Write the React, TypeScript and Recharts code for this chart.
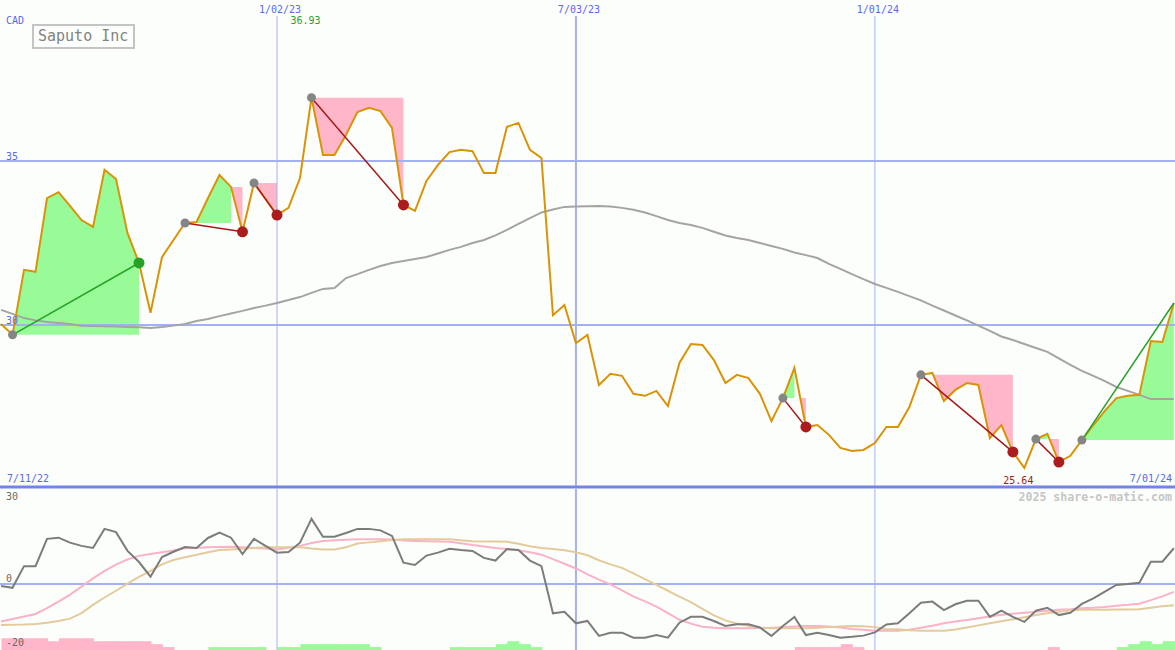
import React from "react";
import {
  ComposedChart,
  Line,
  Area,
  Bar,
  Cell,
  XAxis,
  YAxis,
  ReferenceLine,
  ReferenceDot,
} from "recharts";

// one point per week: week 0 = 7/11/22, week 103 = 7/01/24 (data starts at week 1)
const firstWeek = 1;

// weekly closing price, CAD
const closes = [
  30.03, 29.70, 31.68, 31.62, 33.87, 34.05, 33.63, 33.20, 32.99, 34.73,
  34.45, 32.80, 31.89, 30.37, 32.07, 32.59, 33.11, 33.14, 33.87, 34.57,
  34.21, 32.84, 34.33, 33.84, 33.35, 33.57, 34.48, 36.93, 35.18, 35.18,
  35.79, 36.49, 36.62, 36.52, 36.01, 33.66, 33.48, 34.39, 34.88, 35.27,
  35.34, 35.30, 34.63, 34.63, 36.04, 36.16, 35.34, 35.09, 30.30, 30.61,
  29.45, 29.70, 28.17, 28.51, 28.45, 27.90, 27.84, 27.99, 27.53, 28.84,
  29.42, 29.39, 28.93, 28.23, 28.48, 28.38, 27.90, 27.07, 27.77, 28.69,
  26.89, 26.95, 26.65, 26.25, 26.16, 26.19, 26.40, 26.89, 26.89, 27.50,
  28.48, 28.54, 27.68, 28.02, 28.23, 28.17, 26.55, 26.95, 26.13, 25.64,
  26.52, 26.68, 25.82, 26.01, 26.49, 26.95, 27.38, 27.77, 27.84, 27.87,
  29.51, 29.48, 30.67,
];

// long moving average
const movingAvg = [
  30.46, 30.34, 30.21, 30.14, 30.09, 30.06, 30.03, 29.98, 29.97, 29.96,
  29.95, 29.94, 29.93, 29.91, 29.94, 29.98, 30.03, 30.12, 30.18, 30.27,
  30.35, 30.43, 30.52, 30.59, 30.67, 30.76, 30.85, 30.98, 31.10, 31.13,
  31.43, 31.55, 31.68, 31.80, 31.89, 31.95, 32.01, 32.07, 32.18, 32.29,
  32.38, 32.50, 32.59, 32.73, 32.90, 33.08, 33.26, 33.43, 33.52, 33.60,
  33.61, 33.62, 33.63, 33.61, 33.57, 33.51, 33.43, 33.32, 33.20, 33.11,
  33.05, 32.96, 32.84, 32.73, 32.65, 32.59, 32.50, 32.41, 32.32, 32.21,
  32.13, 32.04, 31.86, 31.71, 31.55, 31.40, 31.25, 31.13, 31.01, 30.88,
  30.75, 30.59, 30.44, 30.29, 30.14, 29.98, 29.82, 29.65, 29.54, 29.42,
  29.30, 29.18, 28.98, 28.78, 28.60, 28.45, 28.29, 28.11, 27.99, 27.87,
  27.74, 27.74, 27.74,
];

// lower panel: oscillator and its two smoothings
const oscLine = [
  -0.7, -1.3, 6.1, 6.1, 15.4, 15.8, 14.1, 13.0, 12.3, 18.8,
  17.7, 11.3, 7.5, 2.5, 9.2, 11.0, 12.6, 12.3, 15.7, 17.5,
  15.8, 10.2, 15.4, 13.0, 10.7, 10.9, 14.1, 22.2, 16.1, 16.1,
  17.4, 18.8, 18.8, 18.3, 16.4, 7.3, 6.5, 9.7, 10.7, 12.0,
  11.6, 11.3, 8.9, 8.0, 11.9, 11.6, 8.0, 6.1, -10.0, -9.5,
  -13.4, -12.6, -17.7, -16.6, -16.6, -18.3, -18.3, -17.4, -18.3, -13.2,
  -11.2, -11.2, -12.6, -14.3, -13.7, -13.7, -14.8, -17.7, -14.3, -11.2,
  -17.4, -16.6, -17.4, -18.3, -18.0, -17.6, -16.5, -13.8, -13.4, -10.0,
  -6.4, -6.0, -8.9, -6.9, -5.7, -5.7, -11.2, -9.1, -11.2, -12.9,
  -9.1, -8.1, -10.6, -9.8, -6.8, -4.9, -2.6, -0.3, 0.0, 0.4,
  7.6, 7.6, 12.2,
];
const oscFast = [
  -12.8, -11.9, -11.1, -10.2, -8.2, -6.0, -3.6, -0.9, 1.9, 4.5,
  6.6, 8.4, 9.6, 10.2, 10.8, 11.4, 12.2, 12.3, 12.5, 12.6,
  12.7, 12.5, 12.3, 12.1, 11.8, 12.4, 13.0, 14.0, 14.7, 14.9,
  15.1, 15.3, 15.3, 15.3, 15.2, 14.8, 14.7, 14.6, 14.5, 14.4,
  13.9, 13.3, 12.8, 12.3, 11.9, 11.5, 10.8, 10.0, 8.5, 6.9,
  5.3, 3.3, 1.5, -0.1, -2.2, -4.2, -5.9, -7.7, -9.9, -12.2,
  -13.5, -14.6, -14.9, -15.1, -15.1, -15.1, -15.0, -14.9, -14.7, -14.5,
  -14.3, -14.3, -14.5, -14.8, -15.3, -15.6, -15.9, -15.9, -15.9, -15.6,
  -14.9, -14.2, -13.4, -12.8, -12.3, -11.7, -11.1, -10.5, -10.1, -9.8,
  -9.5, -9.1, -8.8, -8.6, -8.3, -8.1, -7.8, -7.4, -7.1, -6.7,
  -5.5, -4.2, -2.7,
];
const oscSlow = [
  -14.0, -13.9, -13.8, -13.6, -13.2, -12.6, -11.8, -9.9, -7.1, -4.6,
  -2.3, 0.1, 2.4, 4.5, 6.7, 8.2, 9.1, 10.0, 10.8, 11.6,
  11.8, 12.0, 12.3, 12.5, 12.5, 12.5, 12.5, 12.1, 11.8, 11.8,
  12.5, 13.8, 14.2, 14.6, 15.0, 15.3, 15.3, 15.3, 15.3, 15.3,
  14.9, 14.6, 14.5, 14.5, 14.4, 13.7, 12.9, 12.3, 11.9, 11.5,
  10.8, 9.8, 8.1, 6.7, 5.5, 3.6, 1.7, -0.3, -2.3, -4.3,
  -6.2, -8.5, -10.7, -12.4, -13.5, -14.2, -14.9, -15.1, -15.1, -15.1,
  -15.1, -14.9, -14.7, -14.5, -14.3, -14.4, -14.7, -15.4, -15.4, -15.8,
  -15.9, -15.9, -15.9, -15.5, -14.8, -14.1, -13.4, -12.7, -12.0, -11.3,
  -10.6, -10.0, -9.5, -9.0, -8.8, -8.8, -8.8, -8.7, -8.7, -8.6,
  -8.1, -7.6, -7.2,
];
// small histogram along the bottom (negative = pink, positive = green)
const histogram = [
  -4, -4, -4, -4, -3, -4, -4, -4, -3, -3,
  -3, -3, -3, -2, -1, 0, 0, 0, 1, 1,
  1, 1, 1, 0, 1, 1, 2, 2, 2, 2,
  2, 2, 1, 0, 0, 0, 0, 0, 0, 1,
  1, 1, 1, 2, 3, 2, 1, 0, 0, 0,
  0, 0, 0, 0, 0, 0, 0, 0, 0, 0,
  0, 0, 0, 0, 0, 0, 0, 0, 0, -1,
  -1, -1, -1, -2, -1, 0, 0, 0, 0, 0,
  0, 0, 0, 0, 0, 0, 0, 0, 0, 0,
  0, -1, 0, 0, 0, 0, 0, 1, 2, 3,
  2, 3, 3,
];

// swings: start week, end week, and (optionally) the week whose close caps the pink part
const swings = [
  { from: 2, to: 13 },
  { from: 17, to: 22, pinkTop: 21 },
  { from: 23, to: 25 },
  { from: 28, to: 36 },
  { from: 69, to: 71 },
  { from: 81, to: 89 },
  { from: 91, to: 93 },
  { from: 95, to: 103 },
];

const dateLines = [
  { week: 25, label: "1/02/23", width: 1 },
  { week: 51, label: "7/03/23", width: 2 },
  { week: 77, label: "1/01/24", width: 1 },
];
const priceTicks = [30, 35];
const oscTicks = [30, 0, -20];

const MONO = "'DejaVu Sans Mono', monospace";
const BG = "#fcfefb";
const GRID = "#a3b1f2";
const AXIS_BLUE = "#5a68ec";
const GREEN_FILL = "#98fb98";
const PINK_FILL = "#ffb6c8";
const UP = "#26a226";
const DOWN = "#a41a1a";

const xDomain = [0.91, 103.1];
const priceDomain = [25.06, 39.42];
const oscDomain = [-22.5, 32.4];

const closeAt = (w: number) => closes[w - firstWeek];

// rows for the price panel; green runs from the swing start to the last close above its start level,
// pink covers the part below the level, from the crossing onward
const priceRows: any[] = closes.map((c, k) => ({ x: k + firstWeek, close: c, ma: movingAvg[k] }));
const extraRows: any[] = [];
swings.forEach((s, n) => {
  const level = closeAt(s.from);
  let lastAbove = s.from;
  for (let w = s.from; w <= s.to; w++) if (closeAt(w) >= level) lastAbove = w;
  else break;
  for (let w = s.from; w <= lastAbove; w++) {
    priceRows[w - firstWeek]["g" + n] = [level, closeAt(w)];
  }
  if (s.pinkTop) {
    const top = closeAt(s.pinkTop);
    for (let w = s.pinkTop; w <= s.to; w++) {
      priceRows[w - firstWeek]["p" + n] = [Math.min(closeAt(w), top), top];
    }
  } else if (lastAbove < s.to) {
    const a = closeAt(lastAbove);
    const b = closeAt(lastAbove + 1);
    if (a > level && b < level) {
      extraRows.push({ x: lastAbove + (level - a) / (b - a), ["p" + n]: [level, level] });
    } else {
      priceRows[lastAbove - firstWeek]["p" + n] = [level, level];
    }
    for (let w = lastAbove + 1; w <= s.to; w++) {
      priceRows[w - firstWeek]["p" + n] = [Math.min(closeAt(w), level), level];
    }
  }
});
const rows = [...priceRows, ...extraRows].sort((a, b) => a.x - b.x);

const oscRows = oscLine.map((v, k) => ({
  x: k + firstWeek,
  osc: v,
  fast: oscFast[k],
  slow: oscSlow[k],
  hist: histogram[k],
}));

const maxIdx = closes.indexOf(Math.max(...closes));
const minIdx = closes.indexOf(Math.min(...closes));

const BAR_W = 12;
const HistBar = (props: any) => {
  const { x, y, width, height, fill } = props;
  if (!height) return null;
  return <rect x={x + width / 2} y={y} width={BAR_W} height={height} fill={fill} />;
};

const labelFont = { fontSize: 10, fontFamily: MONO };

const textStyle: React.CSSProperties = {
  position: "absolute",
  fontFamily: MONO,
  fontSize: 10,
  lineHeight: "10px",
  whiteSpace: "nowrap",
};

export default function App() {
  return (
    <div style={{ position: "relative", width: 1175, height: 650, background: BG, overflow: "hidden" }}>
      <style>{"body{margin:0}"}</style>

      <div style={{ position: "absolute", top: 0, left: 0 }}>
        <ComposedChart width={1175} height={490} data={rows} margin={{ top: 16, right: 0, bottom: 3, left: 0 }}>
          <XAxis type="number" dataKey="x" domain={xDomain} allowDataOverflow hide />
          <YAxis domain={priceDomain} allowDataOverflow hide />
          {priceTicks.map((t) => (
            <ReferenceLine
              key={t}
              y={t}
              stroke={GRID}
              strokeWidth={2}
              label={{ value: String(t), position: "insideBottomLeft", offset: 1, dx: 5, fill: AXIS_BLUE, ...labelFont }}
            />
          ))}
          {dateLines.map((d) => (
            <ReferenceLine
              key={d.week}
              x={d.week}
              stroke={GRID}
              strokeWidth={d.width}
              label={{ value: d.label, position: "top", offset: 3, fill: AXIS_BLUE, dx: 3, ...labelFont }}
            />
          ))}
          <ReferenceLine y={priceDomain[0]} stroke="#7283ea" strokeWidth={3} />

          {swings.map((s, n) => (
            <Area
              key={"g" + n}
              dataKey={"g" + n}
              stroke="none"
              fill={GREEN_FILL}
              fillOpacity={1}
              dot={false}
              activeDot={false}
              isAnimationActive={false}
            />
          ))}
          {swings.map((s, n) => (
            <Area
              key={"p" + n}
              dataKey={"p" + n}
              stroke="none"
              fill={PINK_FILL}
              fillOpacity={1}
              dot={false}
              activeDot={false}
              isAnimationActive={false}
            />
          ))}

          <Line dataKey="ma" stroke="#a4a4a4" strokeWidth={2} dot={false} activeDot={false} connectNulls isAnimationActive={false} />
          <Line dataKey="close" stroke="#da9306" strokeWidth={2} dot={false} activeDot={false} connectNulls isAnimationActive={false} />

          {swings.map((s, n) => {
            const a = closeAt(s.from);
            const b = closeAt(s.to);
            return (
              <ReferenceLine
                key={"t" + n}
                segment={[{ x: s.from, y: a }, { x: s.to, y: b }]}
                stroke={b > a ? UP : DOWN}
                strokeWidth={1.5}
              />
            );
          })}
          {swings.map((s, n) => (
            <ReferenceDot key={"s" + n} x={s.from} y={closeAt(s.from)} r={4.5} fill="#858585" stroke="none" />
          ))}
          {swings
            .filter((s) => s.to < closes.length)
            .map((s, n) => {
              const a = closeAt(s.from);
              const b = closeAt(s.to);
              return <ReferenceDot key={"e" + n} x={s.to} y={b} r={5.5} fill={b > a ? UP : "#ac1c1c"} stroke="none" />;
            })}

          <ReferenceDot
            x={maxIdx + firstWeek}
            y={priceDomain[1]}
            r={0}
            fill="none"
            stroke="none"
            label={{ value: closes[maxIdx].toFixed(2), position: "bottom", offset: 1, fill: "#2f9a2f", dx: -6, ...labelFont }}
          />
          <ReferenceDot
            x={minIdx + firstWeek}
            y={priceDomain[0]}
            r={0}
            fill="none"
            stroke="none"
            label={{ value: closes[minIdx].toFixed(2), position: "top", offset: 3, fill: DOWN, dx: -6, ...labelFont }}
          />
        </ComposedChart>
      </div>

      <div style={{ position: "absolute", top: 489, left: 0 }}>
        <ComposedChart width={1175} height={161} data={oscRows} margin={{ top: 0, right: 0, bottom: 0, left: 0 }}>
          <XAxis type="number" dataKey="x" domain={xDomain} allowDataOverflow hide />
          <YAxis domain={oscDomain} allowDataOverflow hide />
          <YAxis yAxisId="h" domain={[0, oscDomain[1] - oscDomain[0]]} hide />
          {dateLines.map((d) => (
            <ReferenceLine key={d.week} x={d.week} stroke={GRID} strokeWidth={d.width} />
          ))}
          {oscTicks.map((t) => (
            <ReferenceLine
              key={"o" + t}
              y={t}
              stroke={t === 0 ? GRID : "none"}
              strokeWidth={2}
              label={
                t === 0
                  ? { value: "0", position: "insideBottomLeft", offset: 2, dx: 4, fill: "#6a6a6a", ...labelFont }
                  : { value: String(t), position: "insideLeft", offset: 6, fill: "#6a6a6a", ...labelFont }
              }
            />
          ))}
          <Bar
            yAxisId="h"
            dataKey={(d: any) => Math.abs(d.hist)}
            barSize={11.5}
            shape={<HistBar />}
            isAnimationActive={false}
          >
            {oscRows.map((d) => (
              <Cell key={d.x} fill={d.hist < 0 ? PINK_FILL : GREEN_FILL} />
            ))}
          </Bar>
          <Line dataKey="fast" stroke="#f9b2c6" strokeWidth={2} dot={false} activeDot={false} isAnimationActive={false} />
          <Line dataKey="slow" stroke="#e3cb9c" strokeWidth={2} dot={false} activeDot={false} isAnimationActive={false} />
          <Line dataKey="osc" stroke="#7c7c7c" strokeWidth={2} dot={false} activeDot={false} isAnimationActive={false} />
        </ComposedChart>
      </div>

      <div style={{ ...textStyle, left: 6, top: 16, color: AXIS_BLUE }}>CAD</div>
      <div
        style={{
          position: "absolute",
          left: 32,
          top: 24,
          width: 103,
          height: 25,
          boxSizing: "border-box",
          border: "2px solid #c4c4c4",
          fontFamily: MONO,
          fontSize: 15,
          lineHeight: "21px",
          paddingLeft: 4,
          color: "#838383",
          whiteSpace: "nowrap",
        }}
      >
        Saputo Inc
      </div>
      <div style={{ ...textStyle, left: 7, top: 474, color: AXIS_BLUE }}>7/11/22</div>
      <div style={{ ...textStyle, right: 3, top: 474, color: AXIS_BLUE }}>7/01/24</div>
      <div
        style={{
          ...textStyle,
          right: 3,
          top: 491,
          fontSize: 11.6,
          lineHeight: "12px",
          fontWeight: "bold",
          color: "#c6c6c6",
        }}
      >
        2025 share-o-matic.com
      </div>
    </div>
  );
}
